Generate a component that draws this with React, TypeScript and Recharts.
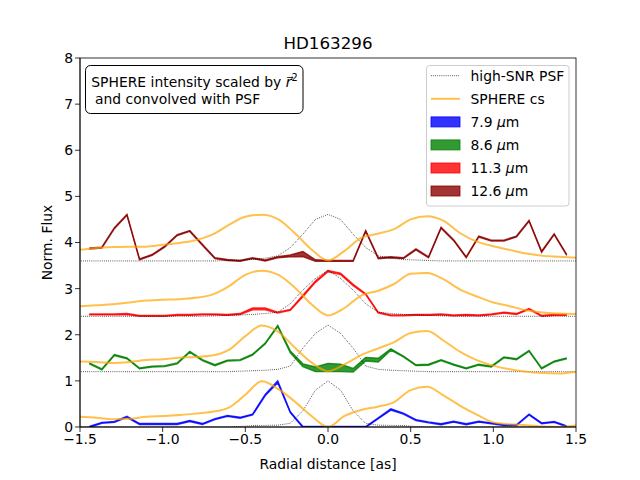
import { ComposedChart, Line, Area, XAxis, YAxis } from "recharts";

const FONT = "DejaVu Sans";

// radial positions of the VISIR measurements [as]
const measX = [
  -1.444, -1.368, -1.292, -1.216, -1.14, -1.064, -0.988, -0.912, -0.836, -0.76,
  -0.684, -0.608, -0.532, -0.456, -0.38, -0.304, -0.228, -0.152, -0.076, 0,
  0.076, 0.152, 0.228, 0.304, 0.38, 0.456, 0.532, 0.608, 0.684, 0.76,
  0.836, 0.912, 0.988, 1.064, 1.14, 1.216, 1.292, 1.368, 1.444,
];

const blueFlux = [
  0.0, 0.09, 0.11, 0.22, 0.065, 0.065, 0.065, 0.065, 0.13, 0.065,
  0.17, 0.24, 0.2, 0.27, 0.69, 0.98, 0.32, 0.0, 0.0, 0.0,
  0.0, 0.0, 0.0, 0.19, 0.38, 0.29, 0.15, 0.1, 0.06, 0.115,
  0.06, 0.115, 0.08, 0.04, 0.04, 0.27, 0.08, 0.11, 0.015,
];
const blueErr = [
  0.01, 0.01, 0.01, 0.01, 0.01, 0.01, 0.01, 0.01, 0.01, 0.01,
  0.01, 0.01, 0.01, 0.01, 0.015, 0.02, 0.01, 0.01, 0.01, 0.01,
  0.01, 0.01, 0.01, 0.01, 0.015, 0.01, 0.01, 0.01, 0.01, 0.01,
  0.01, 0.01, 0.01, 0.01, 0.01, 0.01, 0.01, 0.01, 0.01,
];

const greenFlux = [
  1.38, 1.25, 1.56, 1.49, 1.27, 1.31, 1.32, 1.38, 1.63, 1.45,
  1.34, 1.44, 1.45, 1.57, 1.81, 2.19, 1.63, 1.34, 1.25, 1.29,
  1.28, 1.23, 1.47, 1.45, 1.68, 1.53, 1.34, 1.35, 1.45, 1.35,
  1.27, 1.35, 1.31, 1.51, 1.47, 1.65, 1.27, 1.42, 1.49,
];
const greenErr = [
  0.01, 0.01, 0.01, 0.01, 0.01, 0.01, 0.01, 0.01, 0.01, 0.01,
  0.01, 0.01, 0.01, 0.01, 0.01, 0.015, 0.02, 0.03, 0.05, 0.09,
  0.08, 0.04, 0.04, 0.04, 0.015, 0.01, 0.01, 0.01, 0.01, 0.01,
  0.01, 0.01, 0.01, 0.01, 0.01, 0.01, 0.01, 0.01, 0.01,
];

const redFlux = [
  2.44, 2.44, 2.44, 2.45, 2.41, 2.41, 2.41, 2.43, 2.43, 2.44,
  2.44, 2.43, 2.45, 2.56, 2.56, 2.48, 2.54, 2.84, 3.15, 3.38,
  3.32, 3.08, 2.88, 2.48, 2.42, 2.42, 2.43, 2.43, 2.44, 2.42,
  2.43, 2.42, 2.44, 2.48, 2.45, 2.56, 2.41, 2.43, 2.43,
];
const redErr = [
  0.01, 0.01, 0.01, 0.01, 0.01, 0.01, 0.01, 0.01, 0.01, 0.01,
  0.01, 0.01, 0.01, 0.02, 0.02, 0.01, 0.01, 0.015, 0.015, 0.015,
  0.015, 0.015, 0.01, 0.01, 0.01, 0.01, 0.01, 0.01, 0.01, 0.01,
  0.01, 0.01, 0.01, 0.01, 0.01, 0.01, 0.01, 0.01, 0.01,
];

const brownFlux = [
  3.87, 3.89, 4.31, 4.6, 3.635, 3.73, 3.91, 4.16, 4.25, 3.95,
  3.66, 3.62, 3.6, 3.66, 3.61, 3.68, 3.71, 3.75, 3.61, 3.6,
  3.6, 3.6, 4.25, 3.66, 3.68, 3.66, 3.85, 3.68, 4.32, 4.05,
  3.68, 4.13, 4.04, 4.04, 4.13, 4.47, 3.8, 4.18, 3.73,
];
const brownErr = [
  0.01, 0.01, 0.01, 0.01, 0.01, 0.01, 0.01, 0.01, 0.01, 0.01,
  0.01, 0.01, 0.01, 0.01, 0.01, 0.01, 0.02, 0.055, 0.015, 0.01,
  0.01, 0.01, 0.01, 0.01, 0.01, 0.01, 0.01, 0.01, 0.01, 0.01,
  0.01, 0.01, 0.01, 0.01, 0.01, 0.01, 0.01, 0.01, 0.01,
];

// high-SNR PSF profiles, one per filter
const psfX = [
  -1.52, -1.444, -1.368, -1.292, -1.216, -1.14, -1.064, -0.988, -0.912, -0.836, -0.76,
  -0.684, -0.608, -0.532, -0.456, -0.38, -0.304, -0.228, -0.152, -0.076, 0,
  0.076, 0.152, 0.228, 0.304, 0.38, 0.456, 0.532, 0.608, 0.684, 0.76,
  0.836, 0.912, 0.988, 1.064, 1.14, 1.216, 1.292, 1.368, 1.444, 1.52,
];
const psfBlue = [
  0, 0, 0, 0, 0, 0, 0, 0, 0, 0, 0,
  0, 0, 0.01, 0.03, 0.035, 0.04, 0.08, 0.35, 0.8, 1.0,
  0.8, 0.35, 0.08, 0.04, 0.035, 0.03, 0.01, 0, 0, 0,
  0, 0, 0, 0, 0, 0, 0, 0, 0, 0,
];
const psfGreen = [
  1.2, 1.2, 1.2, 1.2, 1.2, 1.2, 1.2, 1.2, 1.2, 1.2, 1.2,
  1.2, 1.2, 1.21, 1.22, 1.23, 1.25, 1.32, 1.71, 2.03, 2.21,
  2.03, 1.71, 1.32, 1.25, 1.23, 1.22, 1.21, 1.2, 1.2, 1.2,
  1.2, 1.2, 1.2, 1.2, 1.2, 1.2, 1.2, 1.2, 1.2, 1.2,
];
const psfRed = [
  2.4, 2.4, 2.4, 2.4, 2.4, 2.4, 2.4, 2.4, 2.4, 2.4, 2.4,
  2.41, 2.42, 2.43, 2.44, 2.46, 2.49, 2.67, 2.97, 3.22, 3.4,
  3.22, 2.97, 2.67, 2.49, 2.46, 2.44, 2.43, 2.42, 2.41, 2.4,
  2.4, 2.4, 2.4, 2.4, 2.4, 2.4, 2.4, 2.4, 2.4, 2.4,
];
const psfBrown = [
  3.6, 3.6, 3.6, 3.6, 3.6, 3.6, 3.6, 3.6, 3.6, 3.6, 3.6,
  3.6, 3.61, 3.62, 3.63, 3.66, 3.71, 3.89, 4.18, 4.5, 4.61,
  4.5, 4.18, 3.89, 3.71, 3.66, 3.63, 3.62, 3.61, 3.6, 3.6,
  3.6, 3.6, 3.6, 3.6, 3.6, 3.6, 3.6, 3.6, 3.6, 3.6,
];

// SPHERE intensity, r^2 scaled and convolved with each PSF
const csX = [
  -1.5, -1.4, -1.3, -1.2, -1.1, -1.0, -0.9, -0.8, -0.7, -0.6, -0.5,
  -0.4, -0.3, -0.2, -0.1, 0.0, 0.1, 0.2, 0.3, 0.4, 0.5,
  0.6, 0.7, 0.8, 0.9, 1.0, 1.1, 1.2, 1.3, 1.4, 1.5,
];
const csBlue = [
  0.22, 0.2, 0.17, 0.18, 0.22, 0.24, 0.26, 0.29, 0.33, 0.42, 0.7,
  0.99, 0.82, 0.55, 0.24, 0.0, 0.24, 0.37, 0.44, 0.54, 0.8,
  0.87, 0.68, 0.46, 0.27, 0.1, 0.06, 0.04, 0.01, 0.0, 0.03,
];
const csGreen = [
  1.42, 1.41, 1.39, 1.41, 1.45, 1.47, 1.5, 1.52, 1.55, 1.67, 1.97,
  2.2, 2.06, 1.72, 1.4, 1.21, 1.36, 1.56, 1.7, 1.84, 2.04,
  2.08, 1.87, 1.63, 1.45, 1.33, 1.25, 1.2, 1.17, 1.16, 1.2,
];
const csRed = [
  2.62, 2.64, 2.66, 2.7, 2.74, 2.76, 2.77, 2.8, 2.87, 3.05, 3.3,
  3.39, 3.3, 3.02, 2.66, 2.42, 2.58, 2.85, 2.95, 3.1, 3.32,
  3.34, 3.2, 2.98, 2.83, 2.7, 2.62, 2.53, 2.48, 2.46, 2.45,
];
const csBrown = [
  3.84, 3.88, 3.9, 3.91, 3.91, 3.95, 3.99, 4.05, 4.17, 4.38, 4.56,
  4.6, 4.5, 4.2, 3.85, 3.61, 3.82, 4.1, 4.19, 4.29, 4.5,
  4.57, 4.47, 4.2, 4.02, 3.92, 3.84, 3.76, 3.71, 3.69, 3.67,
];

const xTicks = [-1.5, -1.0, -0.5, 0.0, 0.5, 1.0, 1.5];
const yTicks = [0, 1, 2, 3, 4, 5, 6, 7, 8];

const filters = [
  { key: "blue", label: "7.9", color: "#0000ff" },
  { key: "green", label: "8.6", color: "#008000" },
  { key: "red", label: "11.3", color: "#ff0000" },
  { key: "brown", label: "12.6", color: "#8b0000" },
];

const band = (v: number[], e: number[], i: number) => [v[i] - e[i], v[i] + e[i]];

const measData = measX.map((x, i) => ({
  x,
  blue: band(blueFlux, blueErr, i),
  green: band(greenFlux, greenErr, i),
  red: band(redFlux, redErr, i),
  brown: band(brownFlux, brownErr, i),
}));

const psfData = psfX.map((x, i) => ({
  x,
  blue: psfBlue[i],
  green: psfGreen[i],
  red: psfRed[i],
  brown: psfBrown[i],
}));

const csData = csX.map((x, i) => ({
  x,
  blue: csBlue[i],
  green: csGreen[i],
  red: csRed[i],
  brown: csBrown[i],
}));

const fmtX = (v: number) => v.toFixed(1).replace("-", "\u2212");

const tickStyle = { fill: "#000", fontSize: 13.9, fontFamily: FONT };

function Overlay() {
  const rowY = [75.7, 98.8, 121.9, 144.9, 168, 191];
  return (
    <svg
      width={640}
      height={480}
      style={{ position: "absolute", left: 0, top: 0, pointerEvents: "none" }}
      fontFamily={FONT}
      fontSize={13.9}
    >
      <rect x={80} y={58} width={496} height={369} fill="none" stroke="#000" strokeWidth={0.8} />
      <text x={328} y={49} textAnchor="middle" fontSize={16.7}>
        HD163296
      </text>
      <text x={328} y={469} textAnchor="middle" fontSize={13.9}>
        Radial distance [as]
      </text>
      <text x={52} y={242.5} textAnchor="middle" fontSize={13.9} transform="rotate(-90 52 242.5)">
        Norm. Flux
      </text>

      <rect x={85.5} y={65.5} width={217.5} height={48} rx={5} fill="#fff" stroke="#000" strokeWidth={1} />
      <text x={91.3} y={86.7} fontSize={13.9}>
        SPHERE intensity scaled by <tspan fontStyle="italic">r{"\u20D7"}</tspan>
        <tspan fontSize={9.7} dy={-6}>2</tspan>
      </text>
      <text x={95} y={104.3} fontSize={13.9}>
        and convolved with PSF
      </text>

      <rect x={426.5} y={65.5} width={142.5} height={140.5} rx={3} fill="#fff" fillOpacity={0.8} stroke="#cccccc" />
      <line x1={431} x2={460} y1={rowY[0]} y2={rowY[0]} stroke="#000" strokeWidth={0.8} strokeDasharray="0.8 1.3" />
      <text x={470.5} y={rowY[0] + 5} fontSize={13.9}>high-SNR PSF</text>
      <line x1={431} x2={460} y1={rowY[1]} y2={rowY[1]} stroke="#ffa500" strokeOpacity={0.7} strokeWidth={2} />
      <text x={470.5} y={rowY[1] + 5} fontSize={13.9}>SPHERE cs</text>
      {filters.map((f, i) => (
        <g key={f.key}>
          <rect
            x={431}
            y={rowY[i + 2] - 5}
            width={29}
            height={10}
            fill={f.color}
            fillOpacity={0.8}
            stroke={f.color}
            strokeOpacity={0.8}
          />
          <text x={470.5} y={rowY[i + 2] + 5} fontSize={13.9}>
            {f.label} <tspan fontStyle="italic">μ</tspan>m
          </text>
        </g>
      ))}
    </svg>
  );
}

export default function App() {
  return (
    <div style={{ position: "absolute", left: 0, top: 0, width: 640, height: 480, background: "#fff" }}>
      <ComposedChart
        width={640}
        height={480}
        data={measData}
        margin={{ top: 58, right: 64, bottom: 23, left: 40 }}
      >
        <XAxis
          dataKey="x"
          type="number"
          domain={[-1.5, 1.5]}
          ticks={xTicks}
          tickFormatter={fmtX}
          allowDataOverflow
          height={30}
          tickSize={5}
          axisLine={{ stroke: "#000", strokeWidth: 0.8 }}
          tickLine={{ stroke: "#000", strokeWidth: 0.8 }}
          tick={tickStyle}
        />
        <YAxis
          type="number"
          domain={[0, 8]}
          ticks={yTicks}
          allowDataOverflow
          width={40}
          tickSize={5}
          axisLine={{ stroke: "#000", strokeWidth: 0.8 }}
          tickLine={{ stroke: "#000", strokeWidth: 0.8 }}
          tick={tickStyle}
        />
        {filters.map((f) => (
          <Line
            key={"psf-" + f.key}
            data={psfData}
            dataKey={f.key}
            type="linear"
            stroke="#000"
            strokeWidth={0.8}
            strokeDasharray="0.8 1.3"
            dot={false}
            isAnimationActive={false}
          />
        ))}
        {filters.map((f) => (
          <Line
            key={"cs-" + f.key}
            data={csData}
            dataKey={f.key}
            type="monotone"
            stroke="#ffa500"
            strokeOpacity={0.7}
            strokeWidth={2}
            dot={false}
            isAnimationActive={false}
          />
        ))}
        {filters.map((f) => (
          <Area
            key={"obs-" + f.key}
            dataKey={f.key}
            type="linear"
            stroke={f.color}
            strokeOpacity={0.8}
            strokeWidth={1.4}
            fill={f.color}
            fillOpacity={0.8}
            dot={false}
            activeDot={false}
            isAnimationActive={false}
          />
        ))}
      </ComposedChart>
      <Overlay />
    </div>
  );
}
